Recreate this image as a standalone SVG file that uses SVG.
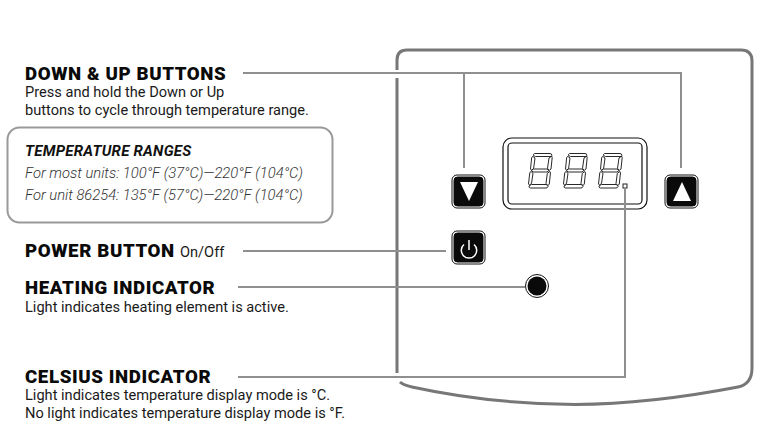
<svg xmlns="http://www.w3.org/2000/svg" width="772" height="441" viewBox="0 0 772 441">
<style>
text{font-family:Roboto,"Liberation Sans",sans-serif;fill:#1a1a1a}
.h{font-size:18.700px;font-weight:900;letter-spacing:.6px;fill:#0a0a0a}
.b{font-size:14.6px}
.t{font-size:15px;font-style:italic;font-weight:700;letter-spacing:.25px;fill:#111}
.i{font-size:14.75px;font-style:italic;font-weight:300;fill:#333}
.c{fill:none;stroke:#8f8f8f;stroke-width:2}
.btn{fill:#0a0a0a;stroke:#0a0a0a;stroke-width:1}
.btno{fill:#fff;stroke:#111;stroke-width:1}
.seg{fill:none;stroke:#111;stroke-width:.9}
</style>
<defs>
<g id="digit">
<path class="seg" d="M6.500 0.500L22 0.500Q24 0.500 23.800 2.500L22.800 3.500H7.500L5.500 2.500Q5.300 1 6.500 0.500Z"/>
<path class="seg" d="M5 3.500L7 5L5.600 15.500L3.500 17.200L2.500 16L3.700 4.500Q4 3.500 5 3.500Z"/>
<path class="seg" d="M24 3.500L24.200 4.500L23 16L21.500 17.200L19.500 15.500L21 5L23 3.600Z"/>
<path class="seg" d="M5.500 16H19L21 17.500L19 19H5L3.500 17.500Z"/>
<path class="seg" d="M3 18.500L5 20.300L3.500 30.500L1.500 32L0.500 31L1.800 19.500Z"/>
<path class="seg" d="M22 18.500L22.500 19.500L21.300 31L20 32.500L18 30.500L19.300 20.300Z"/>
<path class="seg" d="M3.500 31.500H18.500L20 33.500Q19.500 35 18 35H2.500Q0.800 35 1 33Z"/>
</g>
</defs>
<g id="panel"><path d="M397 70V60Q397 50 407 50H741Q752 50 752 61V368Q752 384 738 387Q650 404 575 404.500Q490 404 412 387Q403 385 400 382M397 78V373" fill="none" stroke="#777" stroke-width="3"/></g>
<g id="down-up-label">
<text class="h" x="25" y="80">DOWN &amp; UP BUTTONS</text>
<text class="b" x="25" y="97">Press and hold the Down or Up</text>
<text class="b" x="25" y="115">buttons to cycle through temperature range.</text>
</g>
<g id="temperature-ranges">
<rect x="7.500" y="127.500" width="325" height="95" rx="12" fill="#fff" stroke="#999" stroke-width="2"/>
<text class="t" x="25" y="156">TEMPERATURE RANGES</text>
<text class="i" x="25" y="178">For most units: 100°F (37°C)—220°F (104°C)</text>
<text class="i" x="25" y="200">For unit 86254: 135°F (57°C)—220°F (104°C)</text>
</g>
<g id="power-label">
<text class="h" x="25" y="257">POWER BUTTON</text>
<text x="180" y="257" font-size="14.600px" fill="#222">On/Off</text>
</g>
<g id="heating-label">
<text class="h" x="25" y="294">HEATING INDICATOR</text>
<text class="b" x="25" y="312">Light indicates heating element is active.</text>
</g>
<g id="celsius-label">
<text class="h" x="25" y="383">CELSIUS INDICATOR</text>
<text class="b" x="25" y="400">Light indicates temperature display mode is °C.</text>
<text class="b" x="25" y="418">No light indicates temperature display mode is °F.</text>
</g>
<g id="down-button">
<rect class="btno" x="452" y="175" width="33" height="33" rx="5"/>
<rect class="btn" x="454" y="177" width="29" height="29" rx="3.500"/>
<path d="M460 182H478L469 201Z" fill="#fff"/>
</g>
<g id="up-button">
<rect class="btno" x="665" y="175" width="33" height="33" rx="5"/>
<rect class="btn" x="667" y="177" width="29" height="29" rx="3.500"/>
<path d="M673 201H691L682 182Z" fill="#fff"/>
</g>
<g id="power-button">
<rect class="btno" x="452" y="231" width="33" height="33" rx="5"/>
<rect class="btn" x="454" y="233" width="29" height="29" rx="3.500"/>
<path d="M464 244.500A7.700 7.700 0 1 0 474 244.500M469 240V250" fill="none" stroke="#fff" stroke-width="1.500"/>
</g>
<g id="display">
<rect x="503" y="138" width="144" height="71" rx="9" fill="#fff" stroke="#111" stroke-width="1.200"/>
<rect x="508" y="143" width="134" height="61" rx="4" fill="#fff" stroke="#111" stroke-width="1.200"/>
<use href="#digit" x="528" y="153"/>
<use href="#digit" x="563" y="153"/>
<use href="#digit" x="598" y="153"/>
</g>
<g id="celsius-indicator"><rect x="623" y="184" width="4" height="4" fill="#fff" stroke="#222" stroke-width="1"/></g>
<g id="heating-indicator">
<circle cx="537" cy="286" r="11.500" fill="#fff" stroke="#111" stroke-width="1"/>
<circle cx="537" cy="286" r="9.500" fill="#0a0a0a"/>
</g>
<g id="connectors">
<path d="M243 73H681V168M464 73V168" class="c"/>
<path d="M243 251H446" class="c"/>
<path d="M238 287H525" class="c"/>
<path d="M238 377H625V189" class="c"/>
</g>
</svg>
